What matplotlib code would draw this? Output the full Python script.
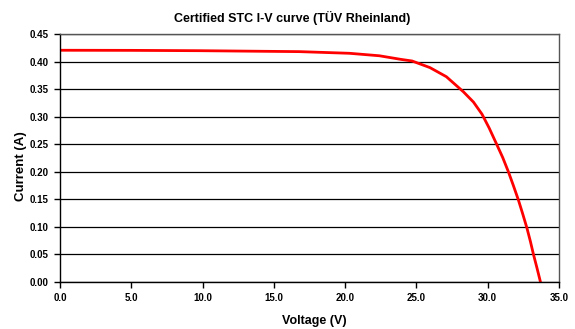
import matplotlib
matplotlib.use("Agg")
import matplotlib.pyplot as plt
from matplotlib.ticker import MultipleLocator, FormatStrFormatter

# I-V points
voltage = [0.0, 5.0, 9.8, 16.8, 20.3, 22.4, 23.9, 24.7, 25.95, 27.1, 28.3,
           29.0, 29.6, 30.1, 30.6, 31.05, 31.45, 31.8, 32.15, 32.45, 32.75,
           33.0, 33.2, 33.45, 33.7]
current = [0.4205, 0.4203, 0.4197, 0.418, 0.415, 0.4105, 0.404, 0.401, 0.389, 0.3725, 0.345,
           0.3265, 0.3045, 0.2795, 0.2515, 0.226, 0.200, 0.175, 0.149, 0.124, 0.098,
           0.073, 0.051, 0.026, 0.0]

plt.rcParams['font.family'] = ['Liberation Sans', 'DejaVu Sans']
plt.rcParams['font.weight'] = 'bold'

W, H = 575, 329
fig = plt.figure(figsize=(W / 100, H / 100), dpi=100)
ax = fig.add_axes([60 / W, 1 - 282 / H, 499 / W, 248 / H])

ax.plot(voltage, current, color="#ff0000", linewidth=2.0, solid_joinstyle="round")

ax.set_xlim(0, 35)
ax.set_ylim(0, 0.45)
ax.xaxis.set_major_locator(MultipleLocator(5))
ax.yaxis.set_major_locator(MultipleLocator(0.05))
ax.xaxis.set_major_formatter(FormatStrFormatter("%.1f"))
ax.yaxis.set_major_formatter(FormatStrFormatter("%.2f"))
ax.grid(axis="y", color="black", linewidth=0.9)
ax.set_axisbelow(True)
ax.tick_params(direction="out", length=4, width=1, labelsize=7, pad=4)
for sp in ax.spines.values():
    sp.set_linewidth(1.0)
    sp.set_color("black")
ax.spines["top"].set_color("#555555")
ax.spines["right"].set_color("#555555")

# titles placed like the original (not centred on the axes)
fig.text(292 / W, 1 - 18 / H, "Certified STC I-V curve (TÜV Rheinland)",
         fontsize=9, fontweight="bold", ha="center", va="center")
fig.text(314 / W, 1 - 321 / H, "Voltage (V)",
         fontsize=9, fontweight="bold", ha="center", va="center")
fig.text(21 / W, 1 - 166 / H, "Current (A)", rotation=90,
         fontsize=9.5, fontweight="bold", ha="center", va="center")

fig.savefig("out.png", dpi=100)
